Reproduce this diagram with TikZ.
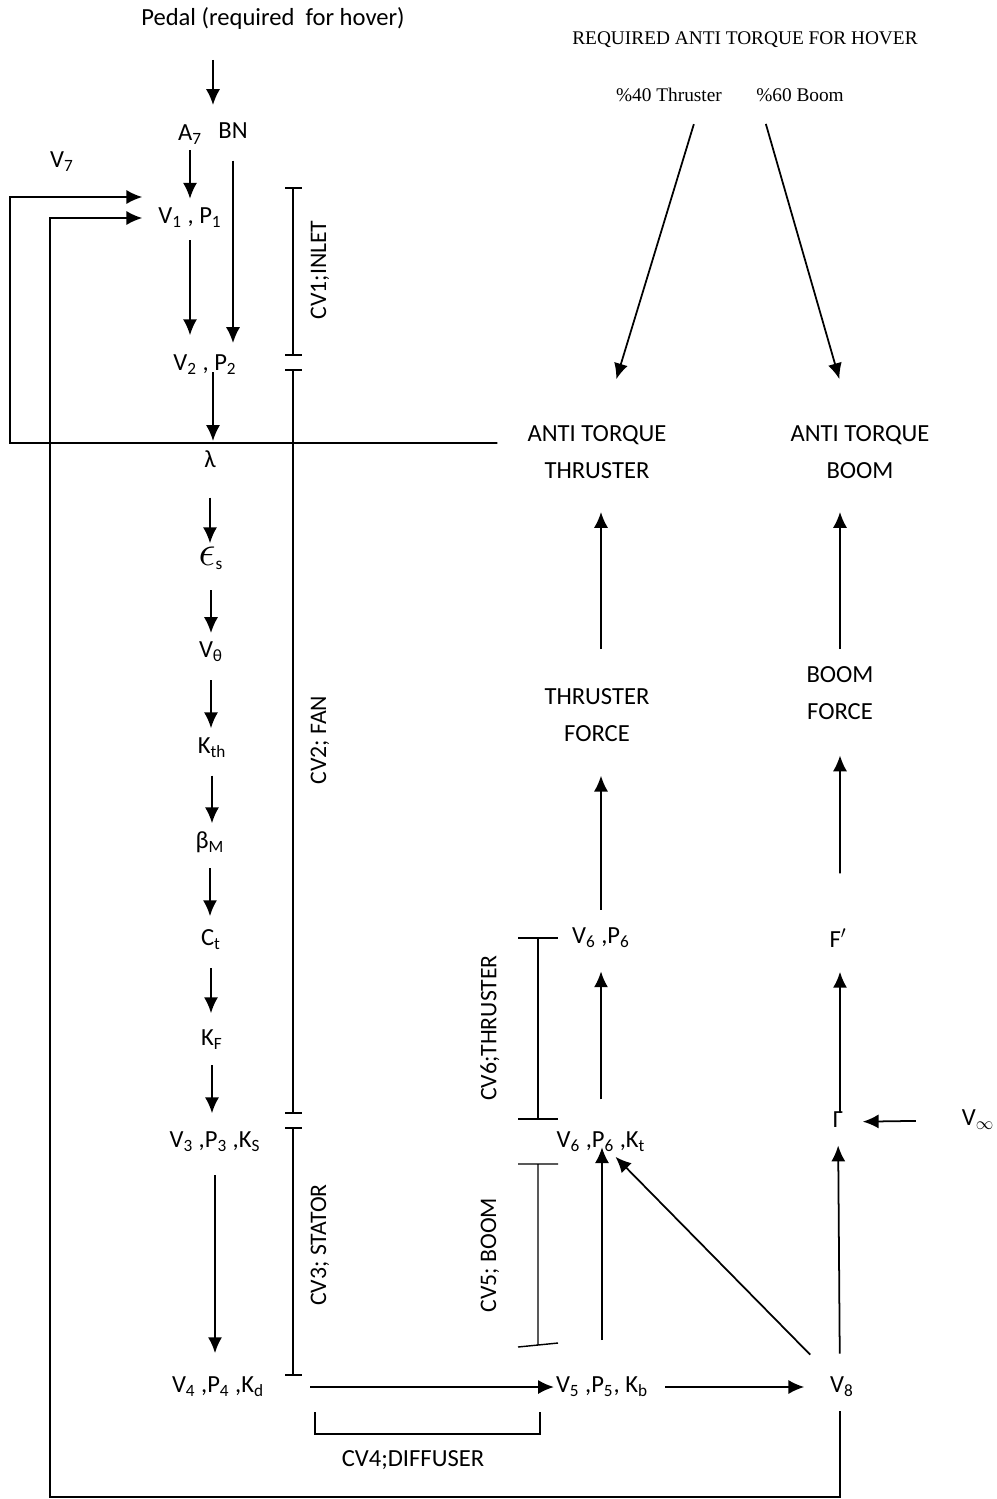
\documentclass[tikz,border=0pt]{standalone}
\usepackage{fontspec}
\setmainfont{Carlito}
\newfontfamily\notefont{Liberation Serif}
\usetikzlibrary{arrows.meta}

\tikzset{
  lbl/.style={inner sep=1pt, text height=9.5pt, text depth=3.5pt, font=\fontsize{14}{16}\selectfont},
  twoline/.style={inner sep=1pt, align=center, font=\fontsize{14}{21.5}\selectfont},
  note/.style={inner sep=1pt, font=\notefont\fontsize{11}{13}\selectfont},
  cvlbl/.style={inner sep=1pt, rotate=90, font=\fontsize{13.5}{15}\selectfont},
  flow/.style={-{Latex[length=9pt,width=8pt]}, line width=1pt},
  cvbar/.style={line width=0.8pt},
}
\newcommand{\sbs}[1]{\textsubscript{#1}}

\begin{document}
\begin{tikzpicture}[x=0.02cm, y=-0.02cm]
\useasboundingbox (0,0) rectangle (997,1499);

% inlet / fan / stator column
\node[lbl] (pedal) at (273,20) {Pedal (required~ for hover)};
\coordinate (pedalend) at (213,105);
\node[lbl] (a7) at (190,135) {A\sbs{7}};
\node[lbl] (bn) at (233,133) {BN};
\node[lbl] (v7) at (62,162) {V\sbs{7}};
\node[lbl] (v1) at (190,218) {V\sbs{1} , P\sbs{1}};
\node[lbl] (v2) at (205,365) {V\sbs{2} , P\sbs{2}};
\node[lbl] (lam) at (210,462) {λ};
\node[lbl] (eps) at (211,560) {\scalebox{1.7}{$\epsilon$}\sbs{s}};
\node[lbl] (vth) at (211,652) {V\sbs{θ}};
\node[lbl] (kth) at (212,748) {K\sbs{th}};
\node[lbl] (betam) at (210,843) {β\sbs{M}};
\node[lbl] (ct) at (211,940) {C\sbs{t}};
\node[lbl] (kf) at (212,1040) {K\sbs{F}};
\node[lbl] (v3) at (215,1142) {V\sbs{3} ,P\sbs{3} ,K\sbs{S}};
\node[lbl] (v4) at (218,1387) {V\sbs{4} ,P\sbs{4} ,K\sbs{d}};

\draw[flow, shorten <=15pt] (pedal.south -| pedalend) -- (pedalend);
\draw[flow, shorten <=1pt, shorten >=11pt] (a7) -- (a7 |- v1);
\draw[flow, shorten <=8pt, shorten >=12.5pt] (bn) -- (bn |- v2);
\draw[flow, shorten <=5pt, shorten >=17pt] (v1) -- (v1 |- v2);
\draw[flow, shorten <=4pt, shorten >=12pt] ([xshift=0.16cm]v2.center) -- ([xshift=0.06cm]lam.center);
\draw[flow, shorten <=12.5pt, shorten >=9.6pt] (lam) -- (lam |- eps);
\draw[flow, shorten <=9.6pt, shorten >=10.8pt] (eps) -- (eps |- vth);
\draw[flow, shorten <=8.5pt, shorten >=11.3pt] (vth) -- (vth |- kth);
\draw[flow, shorten <=8pt, shorten >=11.3pt] (kth) -- (kth |- betam);
\draw[flow, shorten <=6.8pt, shorten >=13.6pt] (betam) -- (betam |- ct);
\draw[flow, shorten <=8.5pt, shorten >=15.3pt] (ct) -- (ct |- kf);
\draw[flow, shorten <=6.8pt, shorten >=16.4pt] (kf) -- (kf |- v3);
\draw[flow, shorten <=11.3pt, shorten >=19.3pt] (v3) -- (v3 |- v4);

% control volume bars
\draw[cvbar] (285,188) -- (302,188) (293,188) -- (293,355) (285,355) -- (302,355);
\draw[cvbar] (285,370) -- (302,370) (293,370) -- (293,1113) (285,1113) -- (302,1113);
\draw[cvbar] (285,1128) -- (302,1128) (293,1128) -- (293,1375) (285,1375) -- (302,1375);
\node[cvlbl] (cv1) at (320,270) {CV1;INLET};
\node[cvlbl] (cv2) at (320,740) {CV2; FAN};
\node[cvlbl] (cv3) at (320,1245) {CV3; STATOR};

\draw[cvbar] (518,938) -- (558,938) (538,938) -- (538,1119) (518,1119) -- (558,1119);
\draw[cvbar] (518,1164) -- (558,1164) (538,1164) -- (538,1345) (518,1347) -- (558,1343);
\node[cvlbl] (cv6) at (490,1028) {CV6;THRUSTER};
\node[cvlbl] (cv5) at (490,1255) {CV5; BOOM};

\draw[cvbar] (315,1412) -- (315,1434) -- (540,1434) -- (540,1412);
\node[lbl] (cv4) at (413,1461) {CV4;DIFFUSER};

% boom / thruster side
\node[lbl] (v5) at (602,1387) {V\sbs{5} ,P\sbs{5}, K\sbs{b}};
\node[lbl] (v8) at (842,1387) {V\sbs{8}};
\node[lbl] (v6k) at (601,1142) {V\sbs{6} ,P\sbs{6} ,K\sbs{t}};
\node[lbl] (v6) at (601,938) {V\sbs{6} ,P\sbs{6}};
\node[twoline] (thforce) at (597,715) {THRUSTER\\FORCE};
\node[twoline] (atth) at (597,452) {ANTI TORQUE\\THRUSTER};
\node[lbl] (gam) at (838,1122) {Γ};
\node[lbl] (vinf) at (978,1120) {V\sbs{$\infty$}};
\node[lbl] (fprime) at (838,942) {F$'$};
\node[twoline] (boomforce) at (840,693) {BOOM\\FORCE};
\node[twoline] (atboom) at (860,452) {ANTI TORQUE\\BOOM};

\draw[flow, shorten <=25pt, shorten >=0pt] (v4) -- (v5);
\draw[flow, shorten <=8.5pt, shorten >=13.6pt] (v5) -- (v8);
\draw[flow, shorten <=19pt, shorten >=3pt] (v5) -- (v5 |- v6k);
\draw[flow, shorten <=16.5pt, shorten >=19pt] (v6k) -- (v6k |- v6);
\draw[flow, shorten <=8.5pt, shorten >=18pt] (v6) -- (v6 |- thforce.south);
\draw[flow, shorten <=21pt, shorten >=17.6pt] (thforce.north -| v6) -- (v6 |- atth.south);
\draw[flow, shorten <=15pt, shorten >=1pt] (v8) -- (v6k);
\draw[flow, shorten <=19pt, shorten >=5.7pt] ([xshift=-0.04cm]v8.center) -- (gam);
\draw[flow, shorten <=25pt, shorten >=10pt] (vinf) -- (gam);
\draw[flow, shorten <=5pt, shorten >=17pt] ([xshift=0.04cm]gam.center) -- ([xshift=0.04cm]fprime.center);
\draw[flow, shorten <=39pt, shorten >=19pt] ([xshift=0.04cm]fprime.center) -- (boomforce.south);
\draw[flow, shorten <=8.5pt, shorten >=17.6pt] (boomforce.north) -- (boomforce.north |- atboom.south);

% required anti torque split
\node[note] (req) at (745,40) {REQUIRED ANTI TORQUE FOR HOVER};
\node[note] (th40) at (669,95) {\%40 Thruster};
\node[note] (bo60) at (800,95) {\%60 Boom};
\draw[flow, shorten <=12pt, shorten >=26pt] ([xshift=0.62cm]th40.south) -- ([xshift=0.12cm]atth.north);
\draw[flow, shorten <=12pt, shorten >=26pt] ([xshift=-0.8cm]bo60.south) -- ([xshift=-0.16cm]atboom.north);

% feedback loops into the inlet
\coordinate (outcorner) at (10,443);
\coordinate (incorner) at (50,1497);
\draw[flow, shorten <=0.56cm, shorten >=8pt] ([yshift=0.18cm]atth.west) -- (outcorner) |- ([yshift=0.42cm]v1.west);
\draw[flow, shorten <=6pt, shorten >=8pt] ([xshift=-0.04cm]v8.south) |- (incorner) |- (v1.west);
\end{tikzpicture}
\end{document}
